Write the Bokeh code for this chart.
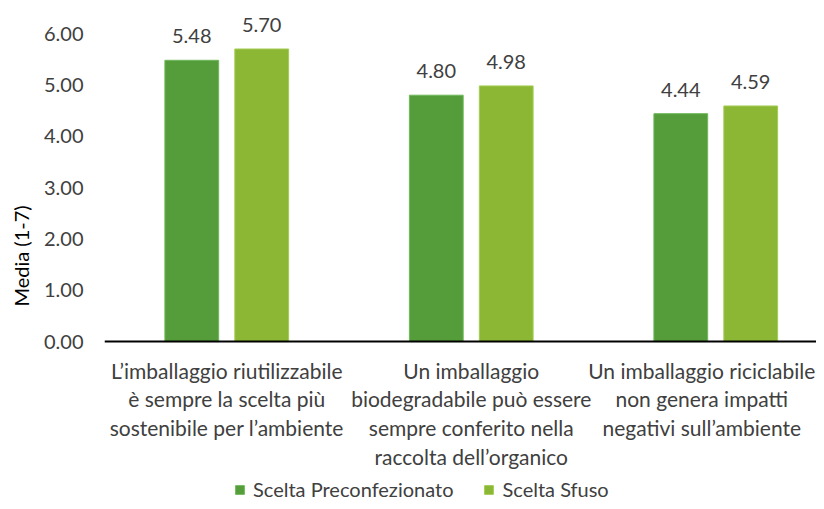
from bokeh.plotting import figure
from bokeh.models import (ColumnDataSource, Range1d, FixedTicker, Legend, LegendItem,
                          LabelSet, Span)
from bokeh.core.properties import value
from bokeh.embed import file_html
from bokeh.resources import INLINE

categories = [
    "L\u2019imballaggio riutilizzabile\n\u00e8 sempre la scelta pi\u00f9\nsostenibile per l\u2019ambiente",
    "Un imballaggio\nbiodegradabile pu\u00f2 essere\nsempre conferito nella\nraccolta dell\u2019organico",
    "Un imballaggio riciclabile\nnon genera impatti\nnegativi sull\u2019ambiente",
]
series_names = ["Scelta Preconfezionato", "Scelta Sfuso"]
preconfezionato = [5.48, 4.80, 4.44]
sfuso = [5.70, 4.98, 4.59]
y_ticks = [0, 1, 2, 3, 4, 5, 6]

FONT = "Lato"
TXT = "#404040"
C1 = "#549D3A"
C2 = "#8BB734"

xc = [i + 0.5 for i in range(len(categories))]

# frame covers plot + category labels + legend; y=0 is the baseline
p = figure(frame_width=712, frame_height=491, output_backend="svg", toolbar_location=None,
           x_range=Range1d(0, 2.912), y_range=Range1d(-3.116, 6.45),
           min_border_left=104, min_border_right=0, min_border_top=10, min_border_bottom=0)
p.outline_line_color = None
p.xgrid.grid_line_color = None
p.ygrid.grid_line_color = None
p.xaxis.visible = False

s1 = ColumnDataSource(dict(x=[v - 0.143 for v in xc], top=preconfezionato,
                           lab=[f"{v:.2f}" for v in preconfezionato]))
s2 = ColumnDataSource(dict(x=[v + 0.143 for v in xc], top=sfuso,
                           lab=[f"{v:.2f}" for v in sfuso]))
r1 = p.vbar(x="x", top="top", bottom=0, width=0.22, source=s1, fill_color=C1,
            line_color="#6fb85a", line_width=1)
r2 = p.vbar(x="x", top="top", bottom=0, width=0.22, source=s2, fill_color=C2,
            line_color="#a3cc55", line_width=1)

for s in (s1, s2):
    p.add_layout(LabelSet(x="x", y="top", text="lab", source=s, text_align="center",
                          text_baseline="bottom", y_offset=17, text_font=value(FONT),
                          text_font_size=value("20px"), text_color=value(TXT)))

# baseline (category axis line)
p.add_layout(Span(location=0, dimension="width", line_color="#000000", line_width=2))

# category labels (last one nudged left so it stays inside the picture)
label_shift = [0, 0, -14]
cat_src = ColumnDataSource(dict(x=xc, y=[0] * len(xc), t=categories, dx=label_shift))
p.text(x="x", y="y", text="t", source=cat_src, text_align="center", text_baseline="top",
       x_offset="dx", y_offset=16, text_font=value(FONT), text_font_size=value("21px"),
       text_color=TXT, text_line_height=1.15)

# y axis
p.yaxis.ticker = FixedTicker(ticks=y_ticks)
p.yaxis.major_label_overrides = {t: f"{t:.2f}" for t in y_ticks}
p.yaxis.axis_line_color = None
p.yaxis.major_tick_line_color = None
p.yaxis.minor_tick_line_color = None
p.yaxis.major_label_text_font = FONT
p.yaxis.major_label_text_font_size = "20px"
p.yaxis.major_label_text_color = TXT
p.yaxis.major_label_standoff = 15
p.yaxis.axis_label = "Media (1-7)"
p.yaxis.axis_label_text_font = FONT
p.yaxis.axis_label_text_font_size = "20px"
p.yaxis.axis_label_text_font_style = "normal"
p.yaxis.axis_label_text_color = "#000000"
p.yaxis.axis_label_standoff = 8

legend = Legend(items=[LegendItem(label=series_names[0], renderers=[r1]),
                       LegendItem(label=series_names[1], renderers=[r2])],
                orientation="horizontal", location=(130, 0),
                label_text_font=FONT, label_text_font_size="20px", label_text_color=TXT,
                glyph_width=11, glyph_height=11, spacing=30, label_standoff=8,
                padding=1, margin=0,
                border_line_color=None, background_fill_alpha=0)
p.add_layout(legend, "center")

open("out.html", "w").write(file_html(p, INLINE))
